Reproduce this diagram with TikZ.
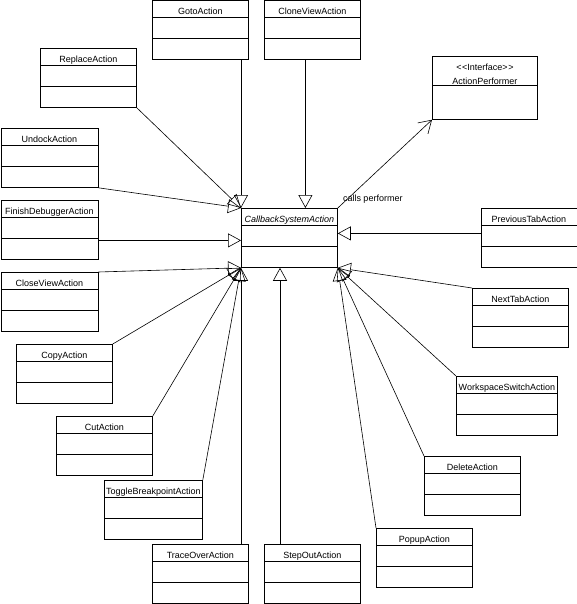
\documentclass[tikz,border=0pt]{standalone}
\usepackage{fontspec}
\setmainfont{Liberation Sans}
\usetikzlibrary{arrows.meta}

\begin{document}
\begin{tikzpicture}[
        x=1pt, y=-1pt,
        font=\fontsize{9pt}{11pt}\selectfont,
        classbox/.style={draw, line width=0.8pt, inner sep=0pt, anchor=north west,
            minimum width=96pt, text height=14pt, text depth=45pt,
            path picture={
                \draw[line width=0.8pt] ([yshift=-17pt]path picture bounding box.north west) -- ([yshift=-17pt]path picture bounding box.north east);
                \draw[line width=0.8pt] ([yshift=-38pt]path picture bounding box.north west) -- ([yshift=-38pt]path picture bounding box.north east);
            }},  % class with name, attribute and operation compartments
        ifacebox/.style={draw, line width=0.8pt, inner sep=0pt, anchor=north west,
            minimum width=105pt, text height=28pt, text depth=35pt,
            path picture={
                \draw[line width=0.8pt] ([yshift=-29pt]path picture bounding box.north west) -- ([yshift=-29pt]path picture bounding box.north east);
            }},  % interface with stereotype
        gen/.style={line width=0.6pt, -{Triangle[open, length=13pt, width=14pt]}},
        call/.style={line width=0.6pt, -{Straight Barb[length=12pt, width=15pt]}}
    ]
    \useasboundingbox (0,0) rectangle (577,604);

    % Central abstract class
    \node[classbox] (callback) at (241,208) {\itshape CallbackSystemAction};

    % Interface on the upper right
    \node[ifacebox] (performer) at (432,56) {ActionPerformer};
    \node[anchor=base, inner sep=0pt] (stereo) at ([yshift=-15pt]performer.north) {<\kern0.6pt<Interface>\kern0.6pt>};

    % Subclasses, top and left
    \node[classbox] (goto) at (152,0.5) {GotoAction};
    \node[classbox] (cloneview) at (264,0.5) {CloneViewAction};
    \node[classbox] (replace) at (40,48) {ReplaceAction};
    \node[classbox, minimum width=97pt] (undock) at (0.5,128) {UndockAction};
    \node[classbox, minimum width=97pt] (finish) at (0.5,200) {FinishDebuggerAction};
    \node[classbox, minimum width=97pt] (closeview) at (0.5,272) {CloseViewAction};
    \node[classbox] (copy) at (16,344) {CopyAction};
    \node[classbox] (cut) at (56,416) {CutAction};
    \node[classbox, minimum width=98pt] (toggle) at (104,480) {ToggleBreakpointAction};

    % Subclasses, bottom and right
    \node[classbox] (traceover) at (152,544) {TraceOverAction};
    \node[classbox] (stepout) at (264,544) {StepOutAction};
    \node[classbox] (popup) at (376,528) {PopupAction};
    \node[classbox] (delete) at (424,456) {DeleteAction};
    \node[classbox, minimum width=101pt] (workspace) at (456,376) {WorkspaceSwitchAction};
    \node[classbox] (nexttab) at (472,288) {NextTabAction};
    \node[classbox] (prevtab) at (480.5,208) {PreviousTabAction};

    % Generalisations into the top left corner
    \draw[gen] (goto.south -| callback.north west) -- (callback.north west);
    \draw[gen] (replace.south east) -- (callback.north west);
    \draw[gen] (undock.south east) -- (callback.north west);
    \draw[gen] ([xshift=-7pt]cloneview.south) -- ([xshift=-7pt]cloneview.south |- callback.north);

    % Generalisations from the left
    \coordinate (finishin) at ([yshift=-2.5pt]callback.west);
    \draw[gen] (finish.east |- finishin) -- (finishin);
    \draw[gen] (closeview.north east) -- (callback.south west);
    \draw[gen] (copy.north east) -- (callback.south west);
    \draw[gen] (cut.north east) -- (callback.south west);
    \draw[gen] (toggle.north east) -- (callback.south west);
    \draw[gen] (traceover.north -| callback.south west) -- (callback.south west);
    \draw[gen] ([xshift=16pt]stepout.north west) -- ([xshift=16pt]stepout.north west |- callback.south);

    % Generalisations from the right
    \draw[gen] ([yshift=4.5pt]prevtab.west) -- ([yshift=4.5pt]prevtab.west -| callback.east);
    \draw[gen] (nexttab.north west) -- (callback.south east);
    \draw[gen] (workspace.north west) -- (callback.south east);
    \draw[gen] (delete.north west) -- (callback.south east);
    \draw[gen] (popup.north west) -- (callback.south east);

    % Association to the interface
    \draw[call] (callback.north east) -- (performer.south west);
    \node[anchor=west, inner sep=0pt] (callslbl) at ([xshift=5pt, yshift=9pt]callback.north east) {calls performer};

\end{tikzpicture}
\end{document}
